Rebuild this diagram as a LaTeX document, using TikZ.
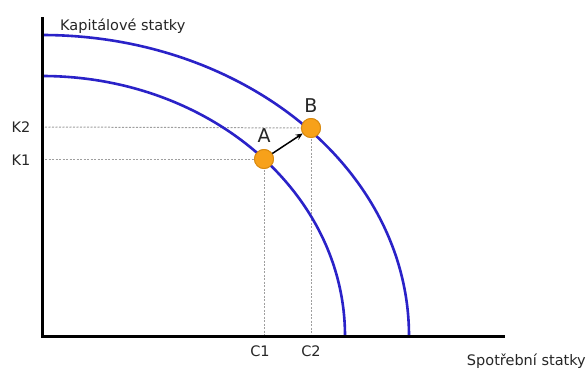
\documentclass[tikz,border=0pt]{standalone}
\usepackage{fontspec}
\setmainfont{DejaVu Sans}
\usetikzlibrary{arrows.meta}
\definecolor{curveblue}{HTML}{2A22C8}
\definecolor{dotfill}{HTML}{F7A11A}
\definecolor{dotedge}{HTML}{D98A10}
\tikzset{
  axis/.style={line width=3pt, black},
  ppf/.style={line width=2.6pt, curveblue},
  guide/.style={gray!75, dash pattern=on 2pt off 1.5pt, line width=1pt},
  dot/.style={circle, fill=dotfill, draw=dotedge, line width=0.9pt, minimum size=19pt, inner sep=0pt},
  lbl/.style={font=\fontsize{14.5}{16}\selectfont, inner sep=0pt, text=black!85},
  ptlbl/.style={font=\fontsize{19}{20}\selectfont, inner sep=0pt, text=black!85},
}
\begin{document}
\begin{tikzpicture}[x=1pt,y=-1pt]
\useasboundingbox (0,0) rectangle (587,370);
\fill[white] (0,0) rectangle (587,370);
% origin
\coordinate (O) at (42,336);
\coordinate (ytop) at (42,17);
\coordinate (xend) at (505,336);
% guides
\coordinate (k2s) at (45,127);
\coordinate (k1s) at (45,159);
\node[dot] (A) at (264,159) {};
\node[dot] (B) at (311,128) {};
\coordinate (c1b) at (264,336);
\coordinate (c2b) at (311,336);
\draw[guide] (k2s) -- (B.center);
\draw[guide] (k1s) -- (A.center);
\draw[guide] (A.center) -- (c1b);
\draw[guide] (B.center) -- (c2b);
% curves
\draw[ppf] (42,35) arc[start angle=90, end angle=0, x radius=367, y radius=-301];
\draw[ppf] (42,76) arc[start angle=90, end angle=0, x radius=303, y radius=-260];
% axes
\draw[axis] (ytop) -- (O) -- (xend);
% dots on top
\node[dot] at (A) {};
\node[dot] at (B) {};
\draw[-{Stealth[length=7pt,width=6pt]}, line width=1.5pt] (A) -- (B);
% labels
\node[ptlbl] (la) at (264,136) {A};
\node[ptlbl] (lb) at (311,106) {B};
\node[lbl, anchor=west] (ky) at (60,26) {Kapitálové statky};
\node[lbl, anchor=east] (sx) at (586,361) {Spotřební statky};
\node[lbl] (k2) at (21,127) {K2};
\node[lbl] (k1) at (21,160) {K1};
\node[lbl] (c1) at (260,351) {C1};
\node[lbl] (c2) at (311,351) {C2};
\end{tikzpicture}
\end{document}
